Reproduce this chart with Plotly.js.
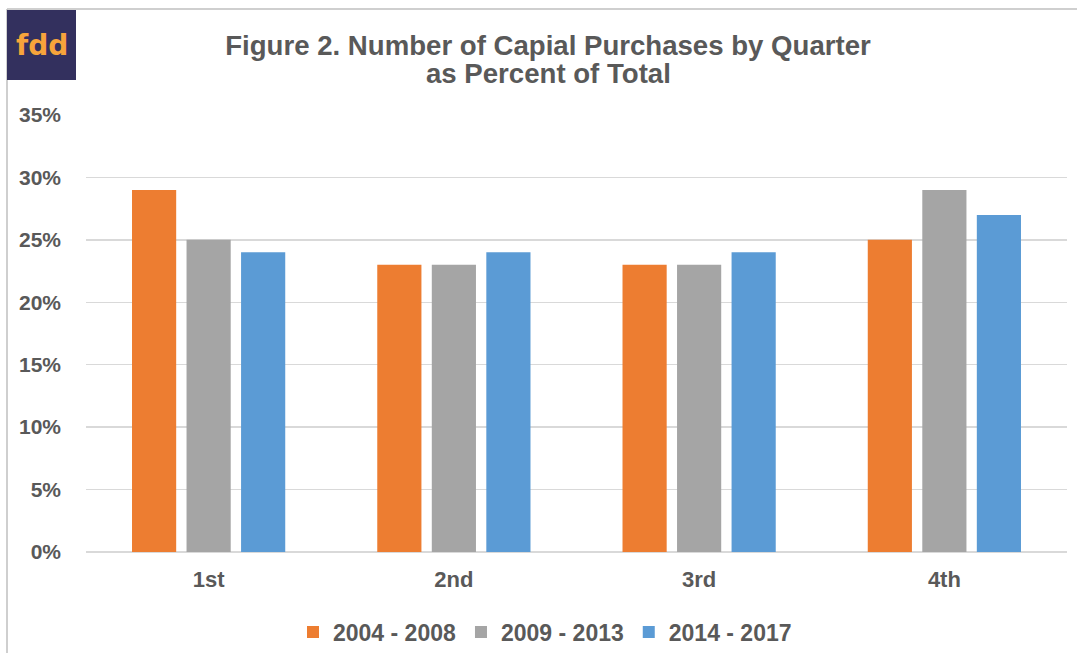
<!DOCTYPE html>
<html>
<head>
<meta charset="utf-8">
<script src="https://cdn.plot.ly/plotly-3.0.1.min.js"></script>
<style>html,body{margin:0;padding:0;background:#fff;}#chart{width:1077px;height:653px;}</style>
</head>
<body>
<div id="chart"></div>
<script>
const categories = ["1st", "2nd", "3rd", "4th"];
const seriesNames = ["2004 - 2008", "2009 - 2013", "2014 - 2017"];
const values2004_2008 = [0.29, 0.23, 0.23, 0.25];
const values2009_2013 = [0.25, 0.23, 0.23, 0.29];
const values2014_2017 = [0.24, 0.24, 0.24, 0.27];
const yTickVals = [0, 0.05, 0.10, 0.15, 0.20, 0.25, 0.30, 0.35];
const yTickText = ["0%", "5%", "10%", "15%", "20%", "25%", "30%", "35%"];
const titleLine1 = "Figure 2. Number of Capial Purchases by Quarter";
const titleLine2 = "as Percent of Total";
const colors = ["#ED7D31", "#A5A5A5", "#5B9BD5"];

const allValues = [values2004_2008, values2009_2013, values2014_2017];
const traces = allValues.map((v, i) => ({
  type: "bar",
  name: seriesNames[i],
  x: categories,
  y: v,
  marker: {color: colors[i]},
  hoverinfo: "x+y+name"
}));

const fam = "Liberation Sans, Arial, sans-serif";
const grey = "#595959";

// pixel helpers for decorations (plot area: x 86..1067, y 115..552)
const W = 1077, H = 653, L = 86, R = 10, T = 115, B = 101;
const pw = W - L - R, ph = H - T - B;
const px = x => (x - L) / pw;
const py = y => (H - B - y) / ph;

const layout = {
  width: W, height: H,
  margin: {l: L, r: R, t: T, b: B, pad: 0, autoexpand: false},
  paper_bgcolor: "#ffffff",
  plot_bgcolor: "#ffffff",
  barmode: "group",
  bargap: 0.333,
  bargroupgap: 0.19,
  title: {
    text: titleLine1,
    font: {family: fam, size: 27.6, color: grey, weight: 700},
    x: 548 / W, xref: "container", xanchor: "center",
    y: 1 - 45 / H, yref: "container", yanchor: "middle"
  },
  xaxis: {
    type: "category",
    tickfont: {family: fam, size: 22, color: grey, weight: 700},
    showgrid: false,
    showline: false,
    zeroline: false,
    ticks: "",
    ticklabelstandoff: 12
  },
  yaxis: {
    range: [0, 0.35],
    tickvals: yTickVals,
    ticktext: yTickText,
    tickfont: {family: fam, size: 21, color: grey, weight: 700},
    showgrid: true,
    gridcolor: "#D9D9D9",
    gridwidth: 1.5,
    zeroline: true,
    zerolinecolor: "#D9D9D9",
    zerolinewidth: 1.5,
    showline: false,
    ticks: "",
    ticklabelstandoff: 24
  },
  legend: {
    orientation: "h",
    x: px(545), xanchor: "center",
    y: py(632), yanchor: "middle",
    font: {family: fam, size: 23, color: grey, weight: 700},
    itemwidth: 30,
    traceorder: "normal"
  },
  shapes: [
    {type: "line", xref: "paper", yref: "paper", x0: px(7), x1: px(1077), y0: py(9), y1: py(9), line: {color: "#BFBFBF", width: 1.5}},
    {type: "line", xref: "paper", yref: "paper", x0: px(7), x1: px(7), y0: py(9), y1: py(653), line: {color: "#BFBFBF", width: 1.5}},
    {type: "rect", xref: "paper", yref: "paper", x0: px(7), x1: px(76), y0: py(10), y1: py(80), fillcolor: "#33305E", line: {width: 0}}
  ],
  annotations: [
    {text: titleLine2, xref: "paper", yref: "paper", x: px(548), y: py(73), xanchor: "center", yanchor: "middle", showarrow: false,
     font: {family: fam, size: 27.6, color: grey, weight: 700}},
    {text: "fdd", xref: "paper", yref: "paper", x: px(42), y: py(46), xanchor: "center", yanchor: "middle", showarrow: false,
     font: {family: "DejaVu Sans, sans-serif", size: 28, color: "#F7A43B", weight: 700}}
  ],
  showlegend: true
};

Plotly.newPlot("chart", traces, layout, {displayModeBar: false, staticPlot: true});
</script>
</body>
</html>
